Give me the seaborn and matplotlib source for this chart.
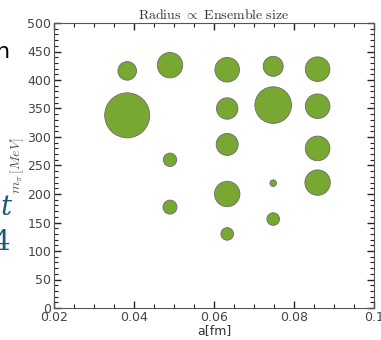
import numpy as np
import pandas as pd
import matplotlib
matplotlib.use("Agg")
import matplotlib.pyplot as plt
import seaborn as sns
from matplotlib.ticker import MultipleLocator

# lattice spacing, pion mass and ensemble size (radius units)
a_fm = [0.0383, 0.049, 0.0633, 0.0748, 0.0859,
        0.0383, 0.0633, 0.0748, 0.0859,
        0.0633, 0.0859, 0.049,
        0.0748, 0.0859, 0.0633,
        0.049, 0.0748, 0.0633]
m_pi = [416, 426, 418, 424, 419,
        338, 350, 356, 354,
        287, 280, 260,
        219, 220, 200,
        177, 156, 130]
ens_size = [9.3, 12.7, 12.3, 10.0, 12.3,
            22.5, 10.7, 18.3, 12.3,
            11.0, 12.3, 6.7,
            3.3, 12.7, 12.7,
            7.0, 6.3, 6.3]

df = pd.DataFrame({"a": a_fm, "mpi": m_pi, "ens": ens_size})
# radius proportional to ensemble size -> marker area in pt^2
df["s"] = (2 * df["ens"] * 72 / 100) ** 2

sns.set_style("ticks")
plt.rcParams["font.family"] = ["DejaVu Sans"]
plt.rcParams["mathtext.fontset"] = "cm"

fig = plt.figure(figsize=(3.81, 3.40), dpi=100)
ax = fig.add_axes([54 / 381, 1 - 308 / 340, 320 / 381, 285 / 340])

sns.scatterplot(data=df, x="a", y="mpi", s=df["s"].values, color="#78a832",
                edgecolor="#6b6b6b", linewidth=0.6, alpha=1, ax=ax, legend=False)

ax.set_xlim(0.02, 0.1)
ax.set_ylim(0, 500)
ax.set_xticks([0.02, 0.04, 0.06, 0.08, 0.1])
ax.set_xticklabels(["0.02", "0.04", "0.06", "0.08", "0.1"])
ax.xaxis.set_minor_locator(MultipleLocator(0.005))
ax.yaxis.set_major_locator(MultipleLocator(50))
ax.yaxis.set_minor_locator(MultipleLocator(10))

ax.tick_params(which="both", direction="in", top=True, right=True,
               bottom=True, left=True, color="#222222",
               labelsize=9, labelcolor="#444444")
ax.tick_params(which="major", length=5, width=1.0, pad=2)
ax.tick_params(which="minor", length=3, width=0.8)
for sp in ax.spines.values():
    sp.set_visible(True)
    sp.set_color("#555555")
    sp.set_linewidth(0.8)

ax.set_title(r"$\mathrm{Radius}\ \propto\ \mathrm{Ensemble\ size}$", fontsize=10,
             color="#333333", pad=3)
ax.set_xlabel("a[fm]", fontsize=9, color="#333333", labelpad=0)
ax.set_ylabel(r"$m_\pi\,[MeV]$", fontsize=10, color="#555555", labelpad=1)

# fragments of neighbouring slide text cut by the crop
fig.text(10 / 381, 1 - 58 / 340, "n", fontsize=16, color="black", ha="right")
fig.text(12 / 381, 1 - 215 / 340, "t", fontsize=20, color="#1d5a7a",
         ha="right", style="italic", family="serif")
fig.text(10 / 381, 1 - 250 / 340, "4", fontsize=20, color="#1d5a7a",
         ha="right", family="serif")

fig.savefig("out.png", dpi=100)
